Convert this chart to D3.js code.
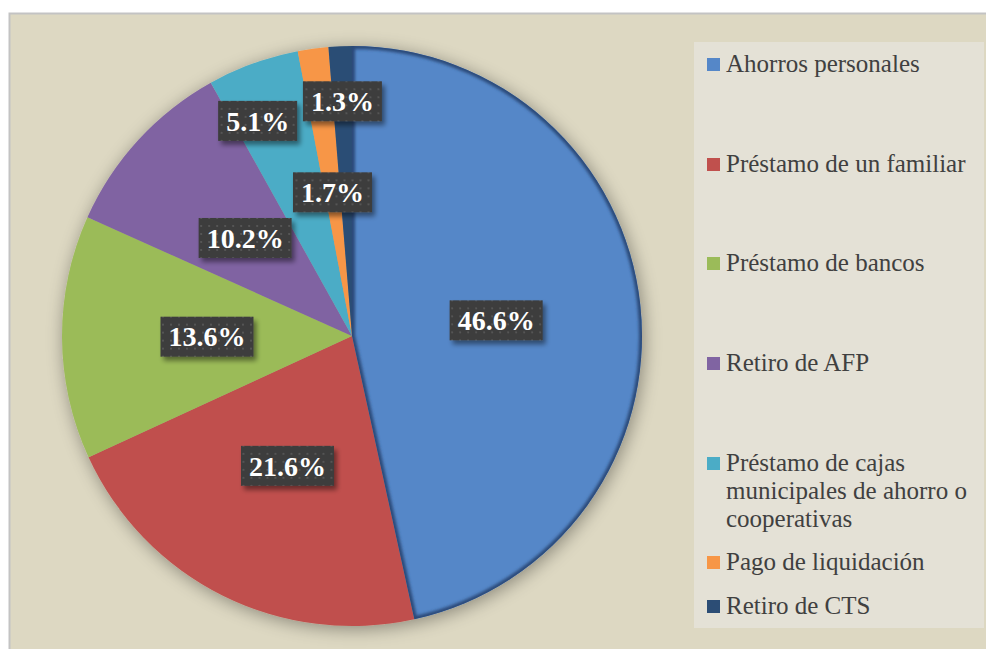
<!DOCTYPE html>
<html>
<head>
<meta charset="utf-8">
<script src="https://cdn.jsdelivr.net/npm/d3@7"></script>
<style>
  body { margin: 0; background: #ffffff; }
  svg { display: block; }
</style>
</head>
<body>
<div id="chart"></div>
<script>
const categories = ['Ahorros personales', 'Préstamo de un familiar', 'Préstamo de bancos',
    'Retiro de AFP', 'Préstamo de cajas municipales de ahorro o cooperativas',
    'Pago de liquidación', 'Retiro de CTS'];
const values = [46.6, 21.6, 13.6, 10.2, 5.1, 1.7, 1.3];
const valueLabels = ['46.6%', '21.6%', '13.6%', '10.2%', '5.1%', '1.7%', '1.3%'];
const legendLines = [['Ahorros personales'], ['Préstamo de un familiar'], ['Préstamo de bancos'],
    ['Retiro de AFP'], ['Préstamo de cajas', 'municipales de ahorro o', 'cooperativas'],
    ['Pago de liquidación'], ['Retiro de CTS']];
const colors = ['#5587c8', '#c0504d', '#9bbb59', '#8064a2', '#4bacc6', '#f79646', '#2c4d75'];

const svgWidth = 986;
const svgHeight = 649;
const cx = 352, cy = 336, radius = 290;

const svg = d3.select('#chart')
    .append('svg')
    .attr('width', svgWidth)
    .attr('height', svgHeight);

const defs = svg.append('defs');

// shadow round the pie
const pieShadow = defs.append('filter').attr('id', 'pieShadow')
    .attr('x', '-20%').attr('y', '-20%').attr('width', '140%').attr('height', '140%');
pieShadow.append('feGaussianBlur').attr('in', 'SourceAlpha').attr('stdDeviation', 9);
pieShadow.append('feOffset').attr('dx', 2).attr('dy', 3).attr('result', 'blur');
pieShadow.append('feComponentTransfer').append('feFuncA').attr('type', 'linear').attr('slope', 0.38);
const m1 = pieShadow.append('feMerge');
m1.append('feMergeNode');
m1.append('feMergeNode').attr('in', 'SourceGraphic');

const bevelBlur = defs.append('filter').attr('id', 'bevelBlur');
bevelBlur.append('feGaussianBlur').attr('stdDeviation', 1.6);

const boxShadow = defs.append('filter').attr('id', 'boxShadow')
    .attr('x', '-20%').attr('y', '-30%').attr('width', '150%').attr('height', '170%');
boxShadow.append('feGaussianBlur').attr('in', 'SourceAlpha').attr('stdDeviation', 2.5);
boxShadow.append('feOffset').attr('dx', 3).attr('dy', 4);
boxShadow.append('feComponentTransfer').append('feFuncA').attr('type', 'linear').attr('slope', 0.45);
const m2 = boxShadow.append('feMerge');
m2.append('feMergeNode');
m2.append('feMergeNode').attr('in', 'SourceGraphic');

const dots = defs.append('pattern').attr('id', 'dots')
    .attr('width', 8).attr('height', 8).attr('patternUnits', 'userSpaceOnUse');
dots.append('rect').attr('width', 8).attr('height', 8).attr('fill', '#3c3c3c');
dots.append('rect').attr('x', 3).attr('y', 3).attr('width', 2).attr('height', 2).attr('fill', '#545454');

// chart area
svg.append('rect')
    .attr('x', 9.5).attr('y', 13.5)
    .attr('width', svgWidth).attr('height', svgHeight)
    .attr('fill', '#ddd8c2')
    .attr('stroke', '#c3c3c3')
    .attr('stroke-width', 2);

const pie = d3.pie().sort(null).value(d => d);
const arcs = pie(values);
const arc = d3.arc().innerRadius(0).outerRadius(radius);

const g = svg.append('g').attr('transform', `translate(${cx},${cy})`);

const slices = g.append('g').attr('filter', 'url(#pieShadow)');
slices.selectAll('path')
    .data(arcs)
    .enter().append('path')
    .attr('d', arc)
    .attr('fill', (d, i) => colors[i]);

// bevel on the largest slice
defs.append('clipPath').attr('id', 'clipBlue')
    .append('path').attr('d', arc(arcs[0]));
g.append('path')
    .attr('d', arc(arcs[0]))
    .attr('clip-path', 'url(#clipBlue)')
    .attr('fill', 'none')
    .attr('stroke', '#2a4a78')
    .attr('stroke-width', 6)
    .attr('filter', 'url(#bevelBlur)');

// data labels: most sit half way out, two small ones were dragged outward
const outerLabels = [4, 6];
const labelInner = d3.arc().innerRadius(radius * 0.5).outerRadius(radius * 0.5);
const labelOuter = d3.arc().innerRadius(radius * 0.81).outerRadius(radius * 0.81);

const labels = g.selectAll('.lbl')
    .data(arcs)
    .enter().append('g')
    .attr('class', 'lbl')
    .attr('transform', (d, i) => {
        let p;
        if (outerLabels.includes(i)) {
            const shift = i === 4 ? -0.065 : 0;
            p = labelOuter.centroid({startAngle: d.startAngle + shift, endAngle: d.endAngle + shift});
        } else {
            p = labelInner.centroid(d);
        }
        return `translate(${p[0]},${p[1]})`;
    });

labels.each(function(d, i) {
    const lg = d3.select(this);
    const t = lg.append('text')
        .attr('text-anchor', 'middle')
        .attr('dy', '0.35em')
        .style('font-family', '"Liberation Serif", serif')
        .style('font-weight', 'bold')
        .style('font-size', '28px')
        .attr('fill', '#ffffff')
        .text(valueLabels[i]);
    const w = t.node().getComputedTextLength() + 16;
    lg.insert('rect', 'text')
        .attr('x', -w / 2).attr('y', -20)
        .attr('width', w).attr('height', 40)
        .attr('fill', 'url(#dots)')
        .attr('filter', 'url(#boxShadow)');
});

// legend
svg.append('rect')
    .attr('x', 694).attr('y', 42)
    .attr('width', 290).attr('height', 586)
    .attr('fill', '#e4e1d6');

const legendYs = [64, 164, 263, 363, 463, 562, 606];

const legend = svg.selectAll('.leg')
    .data(categories)
    .enter().append('g')
    .attr('class', 'leg')
    .attr('transform', (d, i) => `translate(707,${legendYs[i]})`);

legend.append('rect')
    .attr('x', 0).attr('y', -6)
    .attr('width', 13).attr('height', 13)
    .attr('fill', (d, i) => colors[i]);

legend.append('text')
    .attr('x', 19)
    .style('font-family', '"Liberation Serif", serif')
    .style('font-size', '25px')
    .attr('fill', '#404040')
    .each(function(d, i) {
        d3.select(this).selectAll('tspan')
            .data(legendLines[i])
            .enter().append('tspan')
            .attr('x', 19)
            .attr('y', (s, j) => 8 + j * 28)
            .text(s => s);
    });
</script>
</body>
</html>
